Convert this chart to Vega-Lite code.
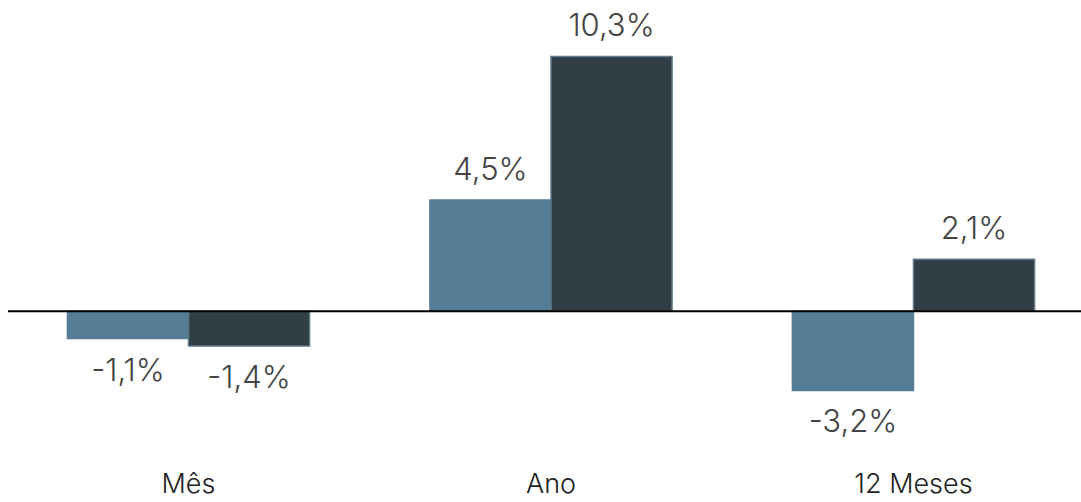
{
  "$schema": "https://vega.github.io/schema/vega-lite/v6.json",
  "autosize": "none",
  "padding": {"left": 8, "top": 2, "right": 0, "bottom": 67},
  "width": 1086,
  "height": 433,
  "background": "white",
  "config": {"view": {"stroke": null}, "font": "Inter"},
  "data": {"values": [
    {"periodo": "Mês", "serie": "A", "valor": -1.1, "rotulo": "-1,1%"},
    {"periodo": "Mês", "serie": "B", "valor": -1.4, "rotulo": "-1,4%"},
    {"periodo": "Ano", "serie": "A", "valor": 4.5, "rotulo": "4,5%"},
    {"periodo": "Ano", "serie": "B", "valor": 10.3, "rotulo": "10,3%"},
    {"periodo": "12 Meses", "serie": "A", "valor": -3.2, "rotulo": "-3,2%"},
    {"periodo": "12 Meses", "serie": "B", "valor": 2.1, "rotulo": "2,1%"}
  ]},
  "encoding": {
    "x": {"field": "periodo", "type": "nominal", "sort": ["Mês", "Ano", "12 Meses"],
      "scale": {"paddingInner": 0.332, "paddingOuter": 0.164},
      "axis": {"title": null, "domain": false, "ticks": false, "labelAngle": 0, "labelPadding": 36, "labelFontSize": 27, "labelColor": "#222222", "labelFont": "Inter", "labelFontWeight": 300}},
    "xOffset": {"field": "serie", "type": "nominal", "scale": {"paddingInner": 0, "paddingOuter": 0}},
    "y": {"field": "valor", "type": "quantitative", "scale": {"domain": [-5, 12.5], "nice": false, "zero": false}, "axis": null}
  },
  "layer": [
    {
      "mark": {"type": "bar", "strokeWidth": 1.5},
      "encoding": {
        "color": {"field": "serie", "type": "nominal", "scale": {"domain": ["A", "B"], "range": ["#557d96", "#323e45"]}, "legend": null},
        "stroke": {"field": "serie", "type": "nominal", "scale": {"domain": ["A", "B"], "range": ["#557d96", "#5f7a8a"]}, "legend": null}
      }
    },
    {
      "transform": [{"filter": "datum.valor >= 0"}],
      "mark": {"type": "text", "baseline": "alphabetic", "dy": -20, "fontSize": 31, "fontWeight": 300, "color": "#444444"},
      "encoding": {"text": {"field": "rotulo"}}
    },
    {
      "transform": [{"filter": "datum.valor < 0"}],
      "mark": {"type": "text", "baseline": "top", "dy": 18, "fontSize": 31, "fontWeight": 300, "color": "#444444"},
      "encoding": {"text": {"field": "rotulo"}}
    },
    {
      "data": {"values": [{"zero": 0}]},
      "mark": {"type": "rule", "color": "#000000", "strokeWidth": 2},
      "encoding": {"y": {"field": "zero", "type": "quantitative"}, "x": null, "xOffset": null}
    }
  ]
}
